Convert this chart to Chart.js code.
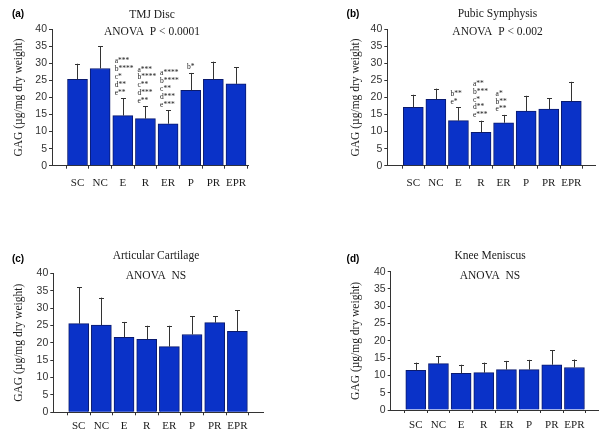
<!DOCTYPE html>
<html>
<head>
<meta charset="utf-8">
<script src="https://cdn.jsdelivr.net/npm/chart.js@4"></script>
<style>
  html, body { margin: 0; padding: 0; background: #ffffff; width: 600px; height: 436px; overflow: hidden; }
  canvas { position: absolute; }
</style>
</head>
<body>
<canvas id="cA" width="300" height="218" style="left:0px;top:0px"></canvas>
<canvas id="cB" width="300" height="218" style="left:300px;top:0px"></canvas>
<canvas id="cC" width="300" height="218" style="left:0px;top:218px"></canvas>
<canvas id="cD" width="300" height="218" style="left:300px;top:218px"></canvas>
<script>
// ---------------- data ----------------
const categories = ['SC', 'NC', 'E', 'R', 'ER', 'P', 'PR', 'EPR'];
const yTicks = [0, 5, 10, 15, 20, 25, 30, 35, 40];

const tmjMeans   = [25.3, 28.5, 14.7, 13.8, 12.3, 22.1, 25.3, 24.0];
const tmjErrors  = [4.6, 6.5, 5.1, 3.6, 4.0, 5.1, 5.2, 4.9];
const tmjSig = [[], [], ['a***', 'b****', 'c*', 'd**', 'e**'], ['a***', 'b****', 'c**', 'd***', 'e**'],
                ['a****', 'b****', 'c**', 'd***', 'e***'], ['b*'], [], []];

const pubicMeans  = [17.1, 19.5, 13.2, 9.8, 12.6, 16.0, 16.6, 18.9];
const pubicErrors = [3.7, 3.1, 3.9, 3.4, 2.3, 4.5, 3.2, 5.7];
const pubicSig = [[], [], ['b**', 'e*'], ['a**', 'b***', 'c*', 'd**', 'e***'], ['a*', 'b**', 'e**'], [], [], []];

const articularMeans  = [25.5, 25.1, 21.6, 21.0, 18.9, 22.4, 25.8, 23.3];
const articularErrors = [10.5, 7.9, 4.4, 3.9, 6.0, 5.3, 1.9, 6.1];

const meniscusMeans  = [11.5, 13.4, 10.6, 10.8, 11.7, 11.7, 13.1, 12.3];
const meniscusErrors = [2.2, 2.2, 2.5, 2.9, 2.5, 2.8, 4.2, 2.3];

const yTitle = 'GAG (\u00b5g/mg dry weight)';

// ---------------- plugins ----------------
const errorBarPlugin = {
  id: 'errorBars',
  afterDatasetsDraw(chart) {
    const ctx = chart.ctx;
    const y = chart.scales.y;
    chart.data.datasets.forEach((ds, di) => {
      const meta = chart.getDatasetMeta(di);
      meta.data.forEach((bar, i) => {
        const top = y.getPixelForValue(ds.data[i].y + ds.errors[i]);
        ctx.save();
        ctx.strokeStyle = '#333333';
        ctx.lineWidth = 1;
        ctx.beginPath();
        const x = Math.round(bar.x) + 0.5;
        ctx.moveTo(x, bar.y);
        ctx.lineTo(x, top);
        ctx.moveTo(x - 2.5, Math.round(top) + 0.5);
        ctx.lineTo(x + 2.5, Math.round(top) + 0.5);
        ctx.stroke();
        // significance annotations
        const sig = (ds.sig && ds.sig[i]) || [];
        if (sig.length) {
          ctx.fillStyle = '#222222';
          ctx.font = '7.5px "Liberation Serif", "DejaVu Serif", serif';
          ctx.textBaseline = 'middle';
          const n = sig.length;
          sig.forEach((s, k) => {
            const ly = top - 5.5 - (n - 1 - k) * 7.8;
            if (n === 1) {
              ctx.textAlign = 'center';
              ctx.fillText(s, bar.x, ly);
            } else {
              ctx.textAlign = 'left';
              ctx.fillText(s, bar.x - bar.width / 2 + 2, ly);
            }
          });
        }
        ctx.restore();
      });
    });
  }
};

const panelTextPlugin = {
  id: 'panelText',
  afterDraw(chart, args, o) {
    const ctx = chart.ctx;
    const area = chart.chartArea;
    ctx.save();
    // panel label
    ctx.fillStyle = '#000000';
    ctx.font = 'bold 10px "Liberation Sans", Arial, sans-serif';
    ctx.textAlign = 'center';
    ctx.textBaseline = 'middle';
    ctx.fillText(o.label, o.labelX, o.labelY);
    // titles
    ctx.fillStyle = '#1a1a1a';
    ctx.font = '11.5px "Liberation Serif", "Times New Roman", serif';
    ctx.fillText(o.title, o.titleX, o.titleY);
    ctx.fillText(o.subtitle, o.titleX, o.subY);
    // y-axis title
    ctx.translate(o.yTitleX, (area.top + area.bottom) / 2);
    ctx.rotate(-Math.PI / 2);
    ctx.fillText(yTitle, 0, 0);
    ctx.restore();
  }
};

// ---------------- builder ----------------
function makePanel(id, means, errors, sig, L) {
  const data = means.map((v, i) => ({ x: i, y: v }));
  return new Chart(document.getElementById(id), {
    type: 'bar',
    data: {
      datasets: [{
        data: data,
        errors: errors,
        sig: sig,
        backgroundColor: '#0a32c8',
        borderColor: '#0a1a6e',
        borderWidth: 1,
        barThickness: 20,
      }]
    },
    options: {
      responsive: false,
      animation: false,
      devicePixelRatio: 1,
      layout: { padding: { left: 0, right: L.padRight, top: L.padTop, bottom: 0 } },
      plugins: {
        legend: { display: false },
        tooltip: { enabled: false },
        panelText: L.text,
      },
      scales: {
        x: {
          type: 'linear',
          offset: false,
          min: L.xMin,
          max: L.xMax,
          afterBuildTicks(scale) { scale.ticks = categories.map((c, i) => ({ value: i })); },
          afterFit(scale) { scale.height = L.xHeight; },
          ticks: {
            autoSkip: false,
            maxRotation: 0,
            padding: L.xPad,
            color: '#1a1a1a',
            font: { family: '"Liberation Serif", "Times New Roman", serif', size: 11 },
            callback: (v) => Number.isInteger(v) ? categories[v] : '',
          },
          grid: { drawOnChartArea: false, drawTicks: true, tickLength: 3, color: '#333333' },
          border: { display: true, color: '#333333', width: 1 },
        },
        y: {
          min: 0,
          max: 40,
          afterBuildTicks(scale) {
            const t = [];
            for (let v = 0; v <= 40; v += 2.5) t.push({ value: v });
            scale.ticks = t;
          },
          afterFit(scale) { scale.width = L.yWidth; },
          ticks: {
            padding: 2,
            color: '#333333',
            font: { family: '"Liberation Sans", Arial, sans-serif', size: 10.5 },
            callback: (v) => yTicks.includes(v) ? String(v) : '',
          },
          grid: { drawOnChartArea: false, drawTicks: true, tickLength: 3, color: '#333333' },
          border: { display: true, color: '#333333', width: 1 },
        }
      }
    },
    plugins: [errorBarPlugin, panelTextPlugin]
  });
}

makePanel('cA', tmjMeans, tmjErrors, tmjSig, {
  padRight: 52, padTop: 29.3, xHeight: 52.3, yWidth: 52, xPad: 8,
  xMin: -1.126, xMax: 7.53,
  text: { label: '(a)', labelX: 18, labelY: 14, title: 'TMJ Disc', subtitle: 'ANOVA  P < 0.0001',
          titleX: 152, titleY: 15, subY: 32.3, yTitleX: 19 }
});
makePanel('cB', pubicMeans, pubicErrors, pubicSig, {
  padRight: 5, padTop: 29.3, xHeight: 52.3, yWidth: 87.3, xPad: 8,
  xMin: -1.152, xMax: 8.05,
  text: { label: '(b)', labelX: 53, labelY: 14, title: 'Pubic Symphysis', subtitle: 'ANOVA  P < 0.002',
          titleX: 197.5, titleY: 13.5, subY: 31.7, yTitleX: 56 }
});
makePanel('cC', articularMeans, articularErrors, [], {
  padRight: 37, padTop: 55.3, xHeight: 23.7, yWidth: 53.3, xPad: 4.5,
  xMin: -1.12, xMax: 8.13,
  text: { label: '(c)', labelX: 18, labelY: 41, title: 'Articular Cartilage', subtitle: 'ANOVA  NS',
          titleX: 156, titleY: 38, subY: 58, yTitleX: 19 }
});
makePanel('cD', meniscusMeans, meniscusErrors, [], {
  padRight: 2, padTop: 53.7, xHeight: 26, yWidth: 90.7, xPad: 5.8,
  xMin: -1.107, xMax: 8.04,
  text: { label: '(d)', labelX: 53, labelY: 41, title: 'Knee Meniscus', subtitle: 'ANOVA  NS',
          titleX: 190, titleY: 38, subY: 58, yTitleX: 56 }
});
</script>
</body>
</html>
